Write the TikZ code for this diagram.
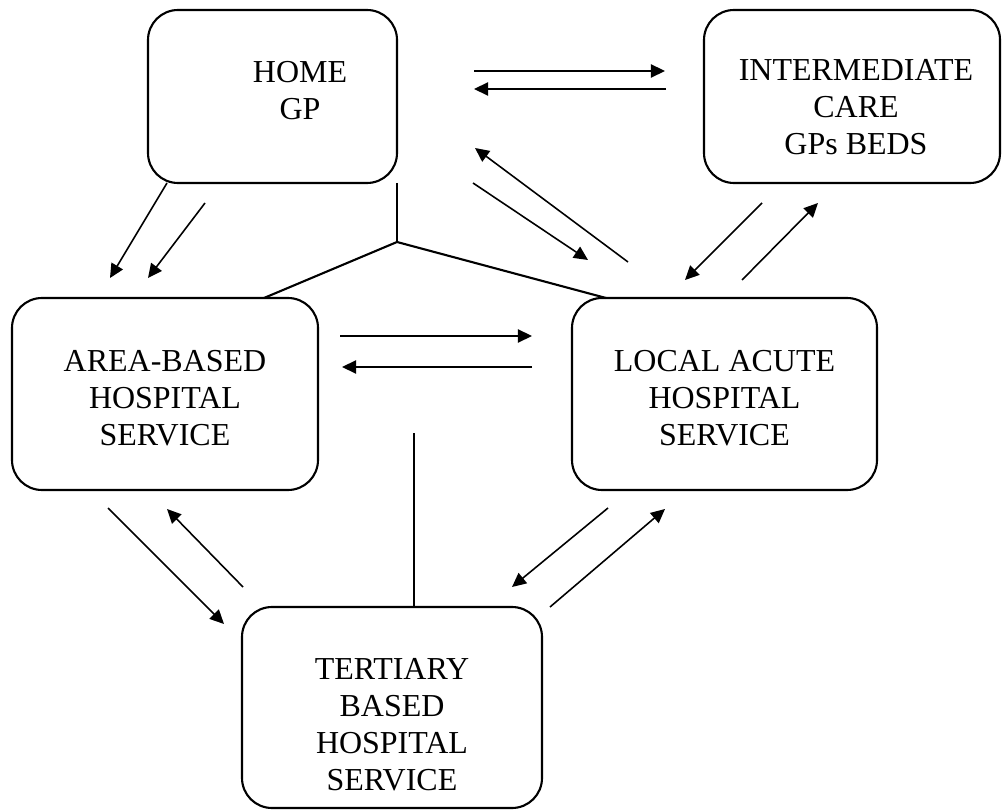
\documentclass[tikz,border=0pt]{standalone}
\usepackage{fontspec}
\setmainfont{Liberation Serif}
\usetikzlibrary{arrows.meta}
\begin{document}
\begin{tikzpicture}[x=0.02cm,y=-0.02cm,
  box/.style={draw,line width=1.2pt,rounded corners=0.6cm},
  lbl/.style={align=center,font=\fontsize{18.2}{21}\selectfont,inner sep=0pt},
  arr/.style={line width=0.9pt,-{Triangle[length=8pt,width=7.5pt]}},
  link/.style={line width=1.2pt}]
\useasboundingbox (0,0) rectangle (1003,810);
% boxes
\draw[box] (148,10) rectangle (397,183);
\draw[box] (704,10) rectangle (1000,183);
\draw[box] (12,298) rectangle (318,490);
\draw[box] (572,298) rectangle (877,490);
\draw[box] (242,607) rectangle (542,808);
% labels
\node[lbl] (home) at (300,91) {HOME\\GP};
\node[lbl] (inter) at (856,107.5) {INTERMEDIATE\\CARE\\GPs BEDS};
\node[lbl] (area) at (165,398) {AREA-BASED\\HOSPITAL\\SERVICE};
\node[lbl] (local) at (724.5,398) {LOCAL ACUTE\\HOSPITAL\\SERVICE};
\node[lbl] (tert) at (392,725) {TERTIARY\\BASED\\HOSPITAL\\SERVICE};
% link lines
\coordinate (hb) at (397,183);
\coordinate (j) at (397,242);
\coordinate (al) at (264,298);
\coordinate (lt) at (606,298);
\coordinate (tt) at (414,607);
\coordinate (tu) at (414,433);
\draw[link] (hb) -- (j);
\draw[link] (al) -- (j) -- (lt);
\draw[link] (tt) -- (tu);
% arrow endpoints
\coordinate (a1s) at (474,71);  \coordinate (a1e) at (665,71);
\coordinate (a2s) at (666,89);  \coordinate (a2e) at (474,89);
\coordinate (a3s) at (167,183); \coordinate (a3e) at (110,278);
\coordinate (a4s) at (205,203); \coordinate (a4e) at (148,278);
\coordinate (a5s) at (628,262); \coordinate (a5e) at (475,148);
\coordinate (a6s) at (473,183); \coordinate (a6e) at (588,260);
\coordinate (a7s) at (762,203); \coordinate (a7e) at (685,280);
\coordinate (a8s) at (742,280); \coordinate (a8e) at (818,203);
\coordinate (a9s) at (340,336); \coordinate (a9e) at (532,336);
\coordinate (b1s) at (532,367); \coordinate (b1e) at (342,367);
\coordinate (b2s) at (108,508); \coordinate (b2e) at (224,624);
\coordinate (b3s) at (243,587); \coordinate (b3e) at (167,509);
\coordinate (b4s) at (608,508); \coordinate (b4e) at (512,587);
\coordinate (b5s) at (550,607); \coordinate (b5e) at (665,509);
\foreach \a in {a1,a2,a3,a4,a5,a6,a7,a8,a9,b1,b2,b3,b4,b5}
  \draw[arr] (\a s) -- (\a e);
\end{tikzpicture}
\end{document}
